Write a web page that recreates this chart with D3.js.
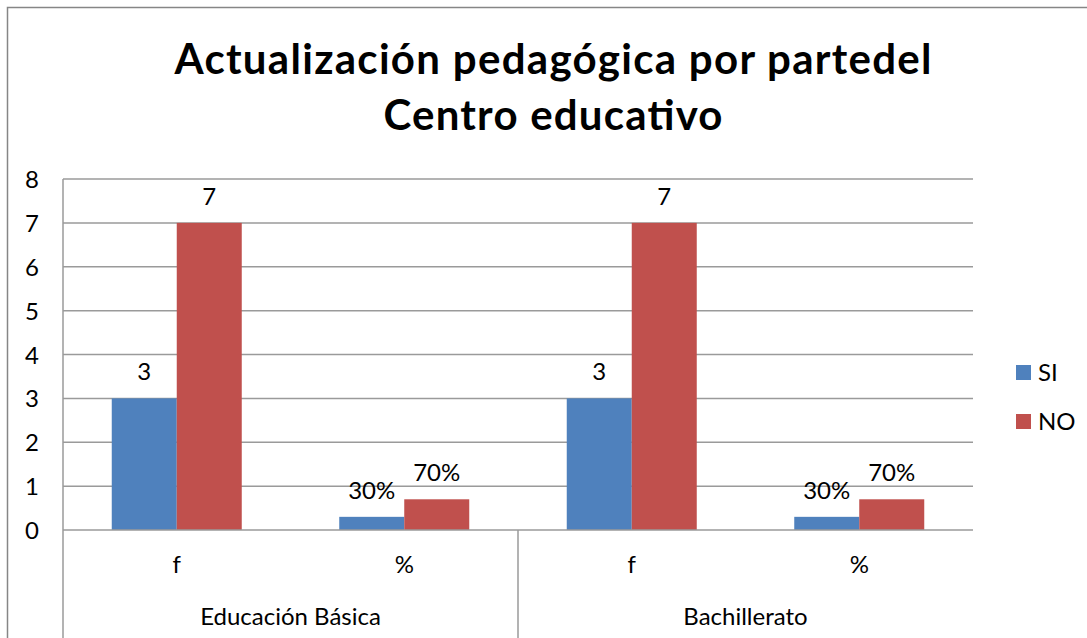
<!DOCTYPE html>
<html>
<head>
<meta charset="utf-8">
<script src="https://cdn.jsdelivr.net/npm/d3@7"></script>
<style>
  html, body { margin: 0; padding: 0; background: #fff; }
  svg { display: block; font-family: Lato, "Open Sans", sans-serif; }
</style>
</head>
<body>
<svg id="chart" width="1087" height="638"></svg>
<script>
// values
var TITLE = ['Actualización pedagógica por partedel', 'Centro educativo'];
var TITLE_WIDTHS = [757, 339];
var GROUPS = ['Educación Básica', 'Bachillerato'];
var MEASURES = ['f', '%', 'f', '%'];
var SERIES = ['SI', 'NO'];
var COLORS = ['#4F81BD', '#C0504D'];
var SI_VALUES = [3, 0.3, 3, 0.3];
var NO_VALUES = [7, 0.7, 7, 0.7];
var SI_LABELS = ['3', '30%', '3', '30%'];
var NO_LABELS = ['7', '70%', '7', '70%'];
var Y_TICKS = [0, 1, 2, 3, 4, 5, 6, 7, 8];

var svg = d3.select('#chart');
var L = 63, R = 973, T = 179, B = 530;
var GRID = '#9a9a9a', FS = 24;

// chart area frame: only the top and left edges fall inside the picture
svg.append('rect')
  .attr('x', 7.5).attr('y', 7.5).attr('width', 1200).attr('height', 700)
  .attr('fill', 'none').attr('stroke', '#868686').attr('stroke-width', 1.5);

// title
svg.append('g').selectAll('text').data(TITLE).join('text')
  .attr('x', 553).attr('y', function(d, i){ return 74 + i*56; })
  .attr('text-anchor', 'middle')
  .attr('font-size', 42).attr('font-weight', 700).attr('fill', '#000')
  .attr('textLength', function(d, i){ return TITLE_WIDTHS[i]; })
  .attr('lengthAdjust', 'spacing')
  .text(function(d){ return d; });

var y = d3.scaleLinear().domain([0, 8]).range([B, T]);
var x = d3.scaleBand().domain(d3.range(MEASURES.length)).range([L, R]);
var xs = d3.scaleBand().domain(SERIES).range([0, x.bandwidth()]).paddingOuter(0.75);
var xg = d3.scaleBand().domain(GROUPS).range([L, R]);

// gridlines + y labels
var gy = svg.append('g');
gy.selectAll('line').data(Y_TICKS.filter(function(t){ return t > 0; })).join('line')
  .attr('x1', L).attr('x2', R)
  .attr('y1', function(d){ return y(d); }).attr('y2', function(d){ return y(d); })
  .attr('stroke', GRID).attr('stroke-width', 1.5);
gy.selectAll('text').data(Y_TICKS).join('text')
  .attr('x', 39).attr('y', function(d){ return y(d) + 9; })
  .attr('text-anchor', 'end').attr('font-size', FS).attr('fill', '#000')
  .text(function(d){ return d; });

// bars, grouped per category slot
var rows = MEASURES.map(function(m, i){
  return [
    { s: 'SI', v: SI_VALUES[i], lab: SI_LABELS[i] },
    { s: 'NO', v: NO_VALUES[i], lab: NO_LABELS[i] }
  ];
});
var cat = svg.append('g').selectAll('g').data(rows).join('g')
  .attr('transform', function(d, i){ return 'translate(' + x(i) + ',0)'; });
cat.selectAll('rect').data(function(d){ return d; }).join('rect')
  .attr('x', function(d){ return xs(d.s); })
  .attr('width', xs.bandwidth())
  .attr('y', function(d){ return y(d.v); })
  .attr('height', function(d){ return B - y(d.v); })
  .attr('fill', function(d){ return COLORS[SERIES.indexOf(d.s)]; });
cat.selectAll('text').data(function(d){ return d; }).join('text')
  .attr('x', function(d){ return xs(d.s) + xs.bandwidth()/2; })
  .attr('y', function(d){ return y(d.v) - 18; })
  .attr('text-anchor', 'middle').attr('font-size', FS).attr('fill', '#000')
  .text(function(d){ return d.lab; });

// axes: value axis, category axis and the group divider
var ga = svg.append('g').attr('stroke', GRID).attr('stroke-width', 1.5);
ga.append('line').attr('x1', L).attr('x2', L).attr('y1', T).attr('y2', 638);
ga.append('line').attr('x1', L).attr('x2', R).attr('y1', B).attr('y2', B);
ga.append('line').attr('x1', xg(GROUPS[1])).attr('x2', xg(GROUPS[1])).attr('y1', B).attr('y2', 638);

svg.append('g').selectAll('text').data(MEASURES).join('text')
  .attr('x', function(d, i){ return x(i) + x.bandwidth()/2; }).attr('y', 573)
  .attr('text-anchor', 'middle').attr('font-size', FS).attr('fill', '#000')
  .text(function(d){ return d; });
svg.append('g').selectAll('text').data(GROUPS).join('text')
  .attr('x', function(d){ return xg(d) + xg.bandwidth()/2; }).attr('y', 625)
  .attr('text-anchor', 'middle').attr('font-size', FS).attr('fill', '#000')
  .text(function(d){ return d; });

// legend
var li = svg.append('g').attr('transform', 'translate(1016,365)')
  .selectAll('g').data(SERIES).join('g')
  .attr('transform', function(d, i){ return 'translate(0,' + (i*49) + ')'; });
li.append('rect').attr('width', 15).attr('height', 15)
  .attr('fill', function(d, i){ return COLORS[i]; });
li.append('text').attr('x', 22).attr('y', 16).attr('font-size', FS).attr('fill', '#000')
  .text(function(d){ return d; });
</script>
</body>
</html>
